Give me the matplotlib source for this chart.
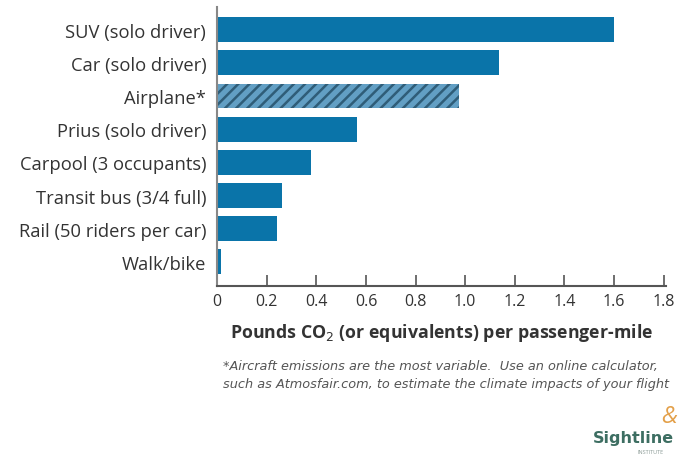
import matplotlib.pyplot as plt

# data
modes = ["SUV (solo driver)", "Car (solo driver)", "Airplane*", "Prius (solo driver)",
         "Carpool (3 occupants)", "Transit bus (3/4 full)", "Rail (50 riders per car)", "Walk/bike"]
co2 = [1.6, 1.135, 0.975, 0.565, 0.38, 0.26, 0.24, 0.015]
hatched = [False, False, True, False, False, False, False, False]
xticks = [0, 0.2, 0.4, 0.6, 0.8, 1.0, 1.2, 1.4, 1.6, 1.8]
xticklabels = ["0", "0.2", "0.4", "0.6", "0.8", "1.0", "1.2", "1.4", "1.6", "1.8"]

plt.rcParams['font.family'] = ['Open Sans', 'DejaVu Sans']
plt.rcParams['hatch.linewidth'] = 1.8
blue = "#0a74a9"
txt = "#333333"

fig = plt.figure(figsize=(6.81, 4.60), dpi=100)
ax = fig.add_axes([0.319, 0.376, 0.659, 0.607])

pos = list(range(len(modes)))
for i, (v, h) in enumerate(zip(co2, hatched)):
    if h:
        ax.barh(i, v, height=0.75, color="#629fc4", edgecolor="#2f5d78",
                hatch="///", linewidth=0)
    else:
        ax.barh(i, v, height=0.75, color=blue, linewidth=0)

ax.set_ylim(7.73, -0.69)
ax.set_xlim(0, 1.81)
ax.set_yticks(pos)
ax.set_yticklabels(modes, fontsize=13.2, color=txt)
ax.tick_params(axis='y', length=0, pad=8)
ax.set_xticks(xticks)
ax.set_xticklabels(xticklabels, fontsize=11.5, color=txt)
ax.tick_params(axis='x', direction='in', length=8, width=1.2, color="#555555", pad=5)

for s in ["top", "right"]:
    ax.spines[s].set_visible(False)
ax.spines["left"].set_color("#888888")
ax.spines["left"].set_linewidth(1.5)
ax.spines["bottom"].set_color("#555555")
ax.spines["bottom"].set_linewidth(1.5)

ax.set_xlabel("Pounds CO$_2$ (or equivalents) per passenger-mile",
              fontsize=12.8, fontweight="bold", color=txt, labelpad=9)

fig.text(0.327, 0.196, "*Aircraft emissions are the most variable.  Use an online calculator,",
         fontsize=9.3, style="italic", color="#555555", family="DejaVu Sans")
fig.text(0.327, 0.157, "such as Atmosfair.com, to estimate the climate impacts of your flight",
         fontsize=9.3, style="italic", color="#555555", family="DejaVu Sans")

# logo
fig.text(0.930, 0.038, "Sightline", fontsize=11.5, fontweight="bold", color="#3d6e62",
         ha="center", family="DejaVu Sans")
fig.text(0.955, 0.012, "INSTITUTE", fontsize=4, color="#8a9a95", ha="center")
fig.text(0.982, 0.080, "&", fontsize=17, style="italic", color="#e3a04a", ha="center")

fig.savefig("out.png", dpi=100)
